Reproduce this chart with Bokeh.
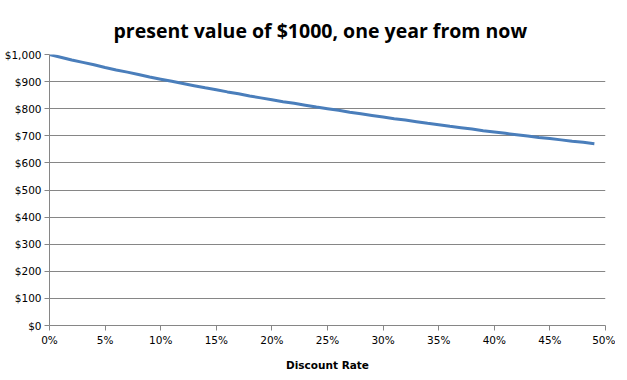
from bokeh.plotting import figure
from bokeh.models import NumeralTickFormatter, FixedTicker, Range1d
from bokeh.embed import file_html
from bokeh.resources import INLINE

rates = [0.00, 0.01, 0.02, 0.03, 0.04, 0.05, 0.06, 0.07, 0.08, 0.09,
         0.10, 0.11, 0.12, 0.13, 0.14, 0.15, 0.16, 0.17, 0.18, 0.19,
         0.20, 0.21, 0.22, 0.23, 0.24, 0.25, 0.26, 0.27, 0.28, 0.29,
         0.30, 0.31, 0.32, 0.33, 0.34, 0.35, 0.36, 0.37, 0.38, 0.39,
         0.40, 0.41, 0.42, 0.43, 0.44, 0.45, 0.46, 0.47, 0.48, 0.49]
present_values = [1000, 990, 980, 971, 962, 952, 943, 935, 926, 917,
                  909, 901, 893, 885, 877, 870, 862, 855, 847, 840,
                  833, 826, 820, 813, 806, 800, 794, 787, 781, 775,
                  769, 763, 758, 752, 746, 741, 735, 730, 725, 719,
                  714, 709, 704, 699, 694, 690, 685, 680, 676, 671]
x_ticks = [0.00, 0.05, 0.10, 0.15, 0.20, 0.25, 0.30, 0.35, 0.40, 0.45, 0.50]
y_ticks = [0, 100, 200, 300, 400, 500, 600, 700, 800, 900, 1000]

p = figure(frame_width=556, frame_height=271, output_backend="svg", toolbar_location=None,
           x_range=Range1d(0, 0.5), y_range=Range1d(0, 1000),
           min_border_left=49, min_border_right=10, min_border_bottom=40, min_border_top=54)

p.title.text = "present value of $1000, one year from now"
p.title.align = "left"
p.title.text_font = "Open Sans"
p.title.text_font_size = "19.5px"
p.title.text_font_style = "bold"
p.title.text_color = "black"
p.title.offset = 64
p.title.standoff = 21

p.line(rates, present_values, line_color="#4A7EBB", line_width=3)

p.outline_line_color = None
p.xgrid.grid_line_color = None
p.ygrid.grid_line_color = "#868686"
p.ygrid.grid_line_width = 1

p.xaxis.ticker = FixedTicker(ticks=x_ticks)
p.yaxis.ticker = FixedTicker(ticks=y_ticks)
p.xaxis.formatter = NumeralTickFormatter(format="0%")
p.yaxis.formatter = NumeralTickFormatter(format="$0,0")

for ax in (p.xaxis, p.yaxis):
    ax.axis_line_color = "#868686"
    ax.major_tick_line_color = "#868686"
    ax.major_tick_out = 5
    ax.major_tick_in = 0
    ax.minor_tick_line_color = None
    ax.major_label_text_font = "DejaVu Sans"
    ax.major_label_text_font_size = "10.5px"
    ax.major_label_text_color = "black"
    ax.major_label_standoff = 3

p.xaxis.axis_label = "Discount Rate"
p.xaxis.axis_label_text_font = "DejaVu Sans"
p.xaxis.axis_label_text_font_size = "10.5px"
p.xaxis.axis_label_text_font_style = "bold"
p.xaxis.axis_label_text_color = "black"
p.xaxis.axis_label_standoff = 10

open("out.html", "w").write(file_html(p, INLINE))
